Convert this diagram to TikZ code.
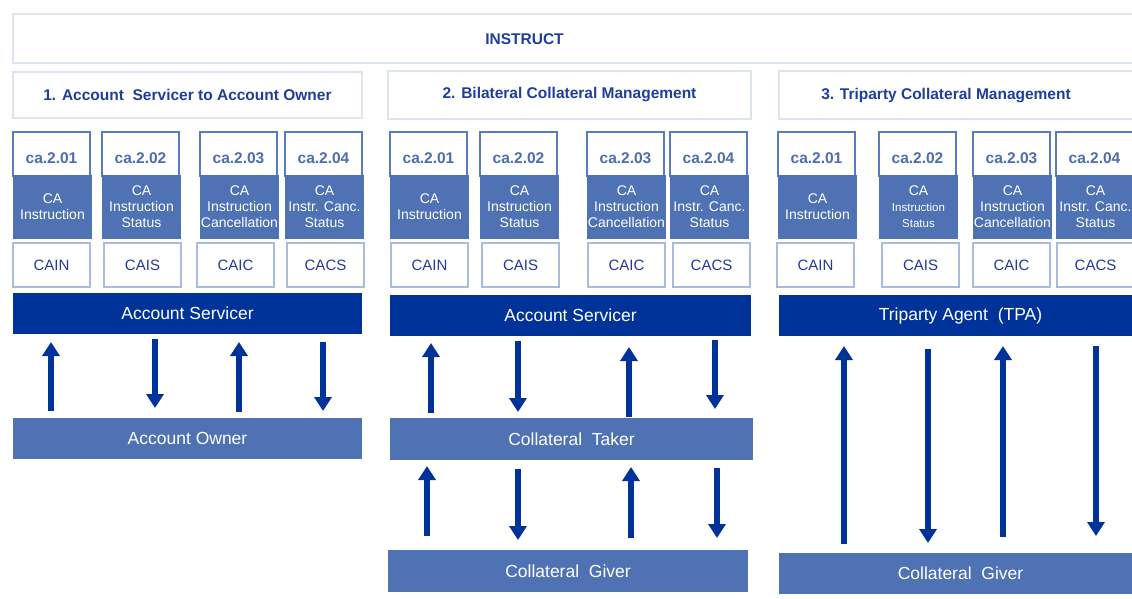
\documentclass[tikz,border=0pt]{standalone}
\usepackage{fontspec}
\setmainfont{Liberation Sans}
\usetikzlibrary{arrows.meta}
\definecolor{dkblue}{RGB}{0,51,153}
\definecolor{mdblue}{RGB}{79,114,180}
\definecolor{boxline}{RGB}{91,123,191}
\definecolor{codeline}{RGB}{169,188,224}
\definecolor{hdrline}{RGB}{220,227,241}
\definecolor{hdrtext}{RGB}{31,62,155}
\definecolor{idtext}{RGB}{77,109,174}
\definecolor{codetext}{RGB}{36,57,154}
\tikzset{
  base/.style={anchor=north west, outer sep=0pt, inner sep=0pt, align=center},
  hbox/.style={base, draw=hdrline, line width=2pt, fill=white},
  htext/.style={font=\bfseries\fontsize{15.5}{18}\selectfont, text=hdrtext},
  wbox/.style={base, draw=boxline, line width=2pt, fill=white, minimum width=77pt, minimum height=44pt,
     font=\bfseries\fontsize{15.5}{18}\selectfont, text=idtext},
  bbox/.style={base, fill=mdblue, minimum width=79pt, minimum height=64pt,
     font=\fontsize{14}{16}\selectfont, text=white},
  cbox/.style={base, draw=codeline, line width=2pt, fill=white, minimum width=77pt, minimum height=44pt,
     font=\fontsize{15}{18}\selectfont, text=codetext},
  darkbar/.style={base, fill=dkblue, minimum height=41pt, font=\fontsize{17.5}{20}\selectfont, text=white},
  lightbar/.style={base, fill=mdblue, minimum height=41pt, font=\fontsize{17.5}{20}\selectfont, text=white},
  arr/.style={draw=dkblue, line width=6pt, -{Triangle[width=17pt,length=14pt]}}
}
\newcommand{\msggroup}[6]{%
  \node[wbox] (#1w) at (#2,132) {\raisebox{-9.5pt}[0pt][0pt]{#4}};
  \node[bbox] (#1b) at (#2,175) {#5};
  \node[cbox] (#1c) at (#3,243) {#6};
}
\newcommand{\msgarrow}[4]{%
  \coordinate (#1s) at (#2,#3);
  \coordinate (#1e) at (#2,#4);
  \draw[arr] (#1s) -- (#1e);
}
\begin{document}
\begin{tikzpicture}[x=1pt,y=-1pt]
\useasboundingbox (0,0) rectangle (1132,598);
% top banner
\node[hbox, minimum width=1129pt, minimum height=49pt] (instr) at (13,14) {};
\node[htext] (instrlbl) at (524.5,39) {INSTRUCT};
% section headers
\node[hbox, minimum width=349pt, minimum height=46pt, htext] (h1) at (13,72) {1. Account\ \ Servicer to Account Owner};
\node[hbox, minimum width=363pt, minimum height=48pt, htext] (h2) at (388,71) {2. Bilateral Collateral Management};
\node[hbox, minimum width=363pt, minimum height=48pt] (h3) at (779,71) {};
\node[htext] (h3lbl) at (946,96) {3. Triparty Collateral Management};
% section 1 messages
\msggroup{s1a}{13}{13}{ca.2.01}{CA\\Instruction}{CAIN}
\msggroup{s1b}{102}{104}{ca.2.02}{CA\\Instruction\\Status}{CAIS}
\msggroup{s1c}{200}{197}{ca.2.03}{CA\\Instruction\\Cancellation}{CAIC}
\msggroup{s1d}{285}{287}{ca.2.04}{CA\\Instr. Canc.\\Status}{CACS}
% section 2 messages
\msggroup{s2a}{390}{391}{ca.2.01}{CA\\Instruction}{CAIN}
\msggroup{s2b}{480}{482}{ca.2.02}{CA\\Instruction\\Status}{CAIS}
\msggroup{s2c}{587}{588}{ca.2.03}{CA\\Instruction\\Cancellation}{CAIC}
\msggroup{s2d}{670}{673}{ca.2.04}{CA\\Instr. Canc.\\Status}{CACS}
% section 3 messages
\msggroup{s3a}{778}{777}{ca.2.01}{CA\\Instruction}{CAIN}
\msggroup{s3b}{879}{882}{ca.2.02}{CA\\{\fontsize{11.5}{14}\selectfont Instruction}\\{\fontsize{11.5}{14}\selectfont Status}}{CAIS}
\msggroup{s3c}{973}{973}{ca.2.03}{CA\\Instruction\\Cancellation}{CAIC}
\msggroup{s3d}{1056}{1057}{ca.2.04}{CA\\Instr. Canc.\\Status}{CACS}
% bars
\node[darkbar, minimum width=349pt] (as1) at (13,293) {Account Servicer};
\node[lightbar, minimum width=349pt] (ao1) at (13,418) {Account Owner};
\node[darkbar, minimum width=361pt] (as2) at (390,295) {Account Servicer};
\node[lightbar, minimum width=363pt, minimum height=42pt] (ct2) at (390,418) {Collateral\ \ Taker};
\node[lightbar, minimum width=360pt, minimum height=42pt] (cg2) at (388,550) {Collateral\ \ Giver};
\node[darkbar, minimum width=363pt] (tpa3) at (779,295) {Triparty Agent\ \ (TPA)};
\node[lightbar, minimum width=363pt] (cg3) at (779,553) {Collateral\ \ Giver};
% arrows section 1
\msgarrow{a11}{51}{411}{342}
\msgarrow{a12}{155}{339}{408}
\msgarrow{a13}{239}{412}{342}
\msgarrow{a14}{323}{342}{411}
% arrows section 2
\msgarrow{a21}{431}{413}{343}
\msgarrow{a22}{518}{341}{412}
\msgarrow{a23}{629}{417}{347}
\msgarrow{a24}{715}{340}{409}
\msgarrow{b21}{427}{536}{466}
\msgarrow{b22}{518}{469}{540}
\msgarrow{b23}{631}{538}{467}
\msgarrow{b24}{717}{468}{538}
% arrows section 3
\msgarrow{a31}{844}{544}{346}
\msgarrow{a32}{928}{349}{543}
\msgarrow{a33}{1003}{537}{346}
\msgarrow{a34}{1096}{346}{536}
\end{tikzpicture}
\end{document}
